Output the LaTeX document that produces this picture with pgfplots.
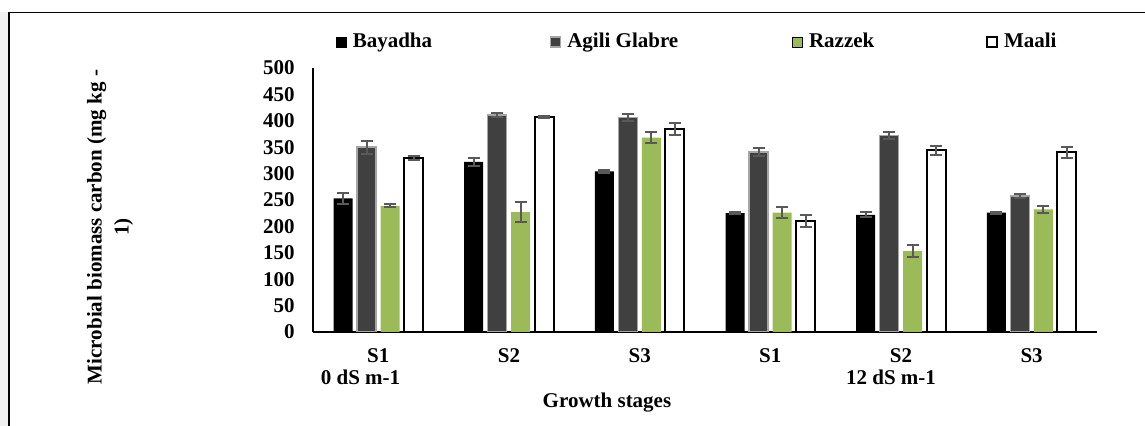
\documentclass[border=0pt]{standalone}
\usepackage{fontspec}
\setmainfont{Liberation Serif}
\usepackage{pgfplots}
\usepackage{pgfplotstable}
\pgfplotsset{compat=1.18}

\definecolor{agili}{HTML}{404040}
\definecolor{agiliedge}{HTML}{A6A6A6}
\definecolor{razzek}{HTML}{9BBB59}
\definecolor{errgray}{HTML}{595959}
\definecolor{stripgray}{HTML}{F0F0F0}

\newcommand{\lblfont}{\fontsize{10.5pt}{13.5pt}\selectfont\bfseries}

% microbial biomass carbon (mg kg-1): mean and error per growth stage
% stages 0-2: 0 dS m-1, stages 3-5: 12 dS m-1
\pgfplotstableread{
x  bay ebay agi eagi raz eraz maa emaa
0  253 10   350 12   239 3    330 4
1  322 7    411 4    227 19   407 2
2  304 2    406 6    368 10   384 11
3  225 2    341 8    226 11   210 12
4  222 5    372 6    153 11   344 8
5  226 2    258 4    232 7    340 10
}\mbc

\begin{document}
\begin{tikzpicture}
\useasboundingbox (-156.5pt,-47pt) rectangle (416pt,166pt);
% chart area frame
\fill[stripgray] (-156.5pt,-47pt) rectangle (-152.5pt,159.75pt);
\draw[line width=0.75pt] (-152pt,-47pt) -- (-152pt,159.75pt) -- (416pt,159.75pt);

\begin{axis}[
  at={(0pt,0pt)}, anchor=south west,
  scale only axis, width=392pt, height=132pt,
  xmin=-0.5, xmax=5.5, ymin=0, ymax=500,
  ybar=2.25pt, bar width=9.5pt,
  axis x line*=bottom, axis y line*=left,
  axis line style={line width=0.75pt, black},
  major tick length=0pt,
  xtick={0,...,5},
  xticklabels={S1,S2,S3,S1,S2,S3},
  ytick={0,50,...,500},
  /pgf/number format/assume math mode=true,
  xticklabel style={font=\lblfont, anchor=base, inner sep=0pt, yshift=-15.5pt},
  yticklabel style={font=\lblfont, anchor=east, inner sep=0pt, xshift=-9pt},
  legend image code/.code={\draw[#1] (0pt,-2.5pt) rectangle (5pt,2.5pt);},
  legend columns=4,
  legend style={draw=none, fill=none, inner sep=0pt, outer sep=0pt,
    at={(0.0293,1.0985)}, anchor=west, font=\lblfont,
    nodes={inner sep=0pt},
    /tikz/every odd column/.append style={column sep=3pt},
    /tikz/every even column/.append style={column sep=0pt}},
  error bars/y dir=both, error bars/y explicit,
  error bars/error bar style={line width=1pt, draw=errgray},
  error bars/error mark=-,
  error bars/error mark options={rotate=90, line width=1pt, mark size=3pt, draw=errgray},
]
\addplot[fill=black, draw=none] table[x=x, y=bay, y error=ebay]{\mbc};
\addlegendentry{\makebox[98.5pt][l]{Bayadha}}
\addplot[fill=agili, draw=agiliedge, line width=0.75pt] table[x=x, y=agi, y error=eagi]{\mbc};
\addlegendentry{\makebox[112.5pt][l]{Agili Glabre}}
\addplot[fill=razzek, draw=none] table[x=x, y=raz, y error=eraz]{\mbc};
\addlegendentry{\makebox[88.5pt][l]{Razzek}}
\addplot[fill=white, draw=black, line width=1pt] table[x=x, y=maa, y error=emaa]{\mbc};
\addlegendentry{Maali}
\end{axis}

% axis titles and salinity levels
\node[font=\lblfont, rotate=90, align=center, anchor=center] at (-101.5pt,52.5pt)
  {Microbial biomass carbon (mg kg -\\1)};
\node[font=\lblfont, anchor=base] at (23.75pt,-26.5pt) {0 dS m-1};
\node[font=\lblfont, anchor=base] at (289pt,-26.5pt) {12 dS m-1};
\node[font=\lblfont, anchor=base] at (147pt,-38pt) {Growth stages};
\end{tikzpicture}
\end{document}
